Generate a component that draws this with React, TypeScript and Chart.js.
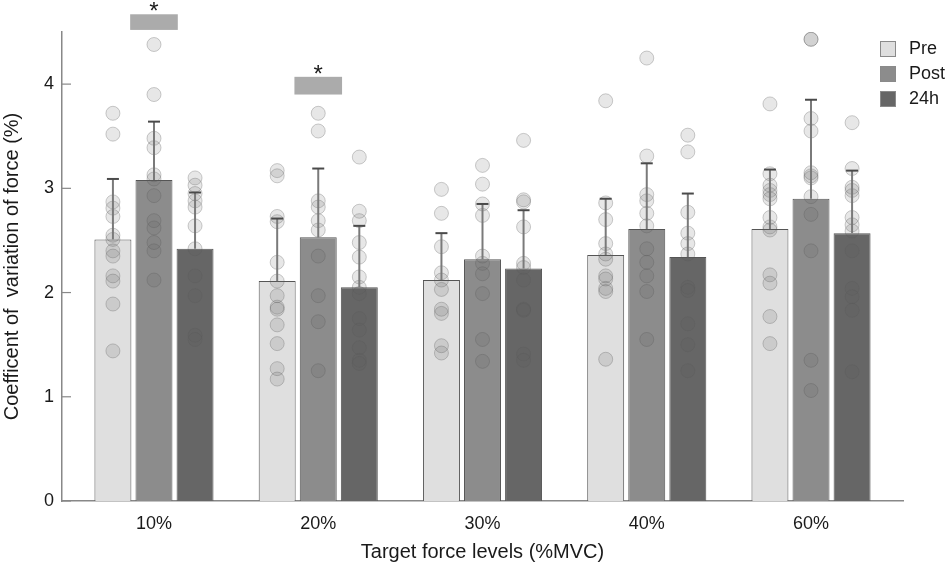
import React, { useEffect, useRef } from "react";
import { Chart, registerables } from "chart.js";

Chart.register(...registerables);

const CATEGORIES = ["10%", "20%", "30%", "40%", "60%"];
const SERIES = ["Pre", "Post", "24h"];
const Y_TICKS = [0, 1, 2, 3, 4];

const PRE_MEAN = [2.51, 2.11, 2.12, 2.36, 2.61];
const POST_MEAN = [3.08, 2.53, 2.32, 2.61, 2.9];
const H24_MEAN = [2.42, 2.05, 2.23, 2.34, 2.57];

const PRE_SD = [0.58, 0.6, 0.45, 0.54, 0.57];
const POST_SD = [0.56, 0.66, 0.53, 0.63, 0.95];
const H24_SD = [0.54, 0.59, 0.56, 0.61, 0.6];

const PRE_POINTS = [
  [3.72, 3.52, 2.87, 2.81, 2.73, 2.55, 2.51, 2.4, 2.35, 2.16, 2.11, 1.89, 1.44],
  [3.17, 3.12, 2.73, 2.68, 2.29, 2.11, 1.97, 1.86, 1.84, 1.69, 1.51, 1.27, 1.17],
  [2.99, 2.76, 2.44, 2.19, 2.12, 2.03, 1.84, 1.8, 1.49, 1.42],
  [3.84, 2.86, 2.7, 2.47, 2.37, 2.32, 2.16, 2.13, 2.04, 2.01, 1.36],
  [3.81, 3.14, 3.03, 2.98, 2.94, 2.9, 2.72, 2.63, 2.6, 2.17, 2.09, 1.77, 1.51],
];
const POST_POINTS = [
  [4.38, 3.9, 3.48, 3.39, 3.13, 3.09, 2.93, 2.69, 2.62, 2.48, 2.4, 2.12],
  [3.72, 3.55, 2.88, 2.82, 2.69, 2.6, 2.35, 1.97, 1.72, 1.25],
  [3.22, 3.04, 2.85, 2.74, 2.35, 2.28, 2.18, 1.99, 1.55, 1.34],
  [4.25, 3.31, 2.94, 2.88, 2.76, 2.64, 2.42, 2.29, 2.16, 2.01, 1.55],
  [4.43, 4.43, 3.67, 3.55, 3.15, 3.12, 3.1, 2.92, 2.75, 2.4, 1.35, 1.06],
];
const H24_POINTS = [
  [3.1, 3.03, 2.95, 2.88, 2.82, 2.64, 2.42, 2.16, 1.97, 1.59, 1.55],
  [3.3, 2.78, 2.69, 2.48, 2.34, 2.15, 2.05, 1.99, 1.75, 1.64, 1.47, 1.35, 1.32],
  [3.46, 2.89, 2.87, 2.63, 2.28, 2.24, 2.12, 1.84, 1.83, 1.41, 1.35],
  [3.51, 3.35, 2.77, 2.57, 2.47, 2.37, 2.05, 2.02, 1.7, 1.5, 1.25],
  [3.63, 3.19, 3.01, 2.98, 2.93, 2.72, 2.65, 2.59, 2.4, 2.04, 1.96, 1.83, 1.24],
];

// significance markers (on the Post bar of these categories)
const SIG_CATEGORY = [0, 1];
const SIG_LOW = [4.52, 3.9];
const SIG_HIGH = [4.67, 4.07];
const SIG_LABEL = ["*", "*"];

const MEANS = [PRE_MEAN, POST_MEAN, H24_MEAN];
const SDS = [PRE_SD, POST_SD, H24_SD];
const POINTS = [PRE_POINTS, POST_POINTS, H24_POINTS];

const GROUP_OFFSET = [-0.25, 0, 0.25];
const BAR_COLORS = ["#dfdfdf", "#8c8c8c", "#666666"];
const FONT = "'Liberation Sans', Arial, sans-serif";
const TEXT_COLOR = "#1a1a1a";

const overlay = {
  id: "overlay",
  afterDatasetsDraw(chart: any) {
    const { ctx, scales } = chart;
    const xs = scales.x;
    const ys = scales.y;
    ctx.save();

    // error bars (upper only)
    MEANS.forEach((means, s) => {
      means.forEach((m, i) => {
        const x = xs.getPixelForValue(i + GROUP_OFFSET[s]);
        const y0 = ys.getPixelForValue(m);
        const y1 = ys.getPixelForValue(m + SDS[s][i]);
        ctx.strokeStyle = "#7a7a7a";
        ctx.lineWidth = 2;
        ctx.beginPath();
        ctx.moveTo(x, y0);
        ctx.lineTo(x, y1);
        ctx.stroke();
        ctx.strokeStyle = "#4a4a4a";
        ctx.beginPath();
        ctx.moveTo(x - 6, y1);
        ctx.lineTo(x + 6, y1);
        ctx.stroke();
      });
    });

    // significance rectangles and asterisks
    const halfW = 0.145;
    SIG_CATEGORY.forEach((c, k) => {
      const xc = c + GROUP_OFFSET[1];
      const xl = xs.getPixelForValue(xc - halfW);
      const xr = xs.getPixelForValue(xc + halfW);
      const yt = ys.getPixelForValue(SIG_HIGH[k]);
      const yb = ys.getPixelForValue(SIG_LOW[k]);
      ctx.fillStyle = "#ababab";
      ctx.fillRect(xl, yt, xr - xl, yb - yt);
      ctx.fillStyle = TEXT_COLOR;
      ctx.font = `24px ${FONT}`;
      ctx.textAlign = "center";
      ctx.textBaseline = "alphabetic";
      ctx.fillText(SIG_LABEL[k], (xl + xr) / 2, yt + 5);
    });

    // inside tick marks on y axis
    ctx.strokeStyle = "#888888";
    ctx.lineWidth = 1.2;
    Y_TICKS.forEach((v) => {
      const y = ys.getPixelForValue(v);
      ctx.beginPath();
      ctx.moveTo(xs.left, y);
      ctx.lineTo(xs.left + 9, y);
      ctx.stroke();
    });

    // legend
    const lx = chart.width - 65;
    const ly0 = 49;
    const step = 25;
    SERIES.forEach((name, s) => {
      const cy = ly0 + s * step;
      ctx.fillStyle = BAR_COLORS[s];
      ctx.fillRect(lx, cy - 8, 16, 16);
      ctx.strokeStyle = "#8a8a8a";
      ctx.lineWidth = 1;
      ctx.strokeRect(lx + 0.5, cy - 7.5, 15, 15);
      ctx.fillStyle = TEXT_COLOR;
      ctx.font = `18px ${FONT}`;
      ctx.textAlign = "left";
      ctx.textBaseline = "middle";
      ctx.fillText(name, lx + 29, cy);
    });

    ctx.restore();
  },
};

export default function App() {
  const ref = useRef<HTMLCanvasElement | null>(null);

  useEffect(() => {
    if (!ref.current) return;
    const barSets = SERIES.map((name, s) => ({
      type: "bar" as const,
      label: name,
      data: MEANS[s].map((m, i) => ({ x: i + GROUP_OFFSET[s], y: m })),
      backgroundColor: BAR_COLORS[s],
      borderColor: "#555555",
      borderWidth: 1,
      grouped: false,
      categoryPercentage: 1,
      barPercentage: 0.9,
      order: 2,
    }));
    const pointSets = SERIES.map((name, s) => ({
      type: "scatter" as const,
      label: name + " points",
      data: POINTS[s].flatMap((arr, i) =>
        arr.map((v) => ({ x: i + GROUP_OFFSET[s], y: v }))
      ),
      pointRadius: 7,
      pointBackgroundColor: "rgba(95,95,95,0.15)",
      pointBorderColor: "rgba(90,90,90,0.3)",
      pointBorderWidth: 1,
      showLine: false,
      order: 1,
    }));

    const chart = new Chart(ref.current, {
      type: "bar",
      data: { datasets: [...barSets, ...pointSets] as any },
      plugins: [overlay],
      options: {
        animation: false,
        responsive: true,
        maintainAspectRatio: false,
        layout: { padding: { top: 32, right: 42, left: 0, bottom: 0 } },
        plugins: { legend: { display: false }, tooltip: { enabled: false } },
        scales: {
          x: {
            type: "linear",
            min: -0.56,
            max: 4.56,
            offset: false,
            grid: { display: false, drawTicks: false, offset: false },
            border: { display: true, color: "#888888", width: 1.5 },
            afterBuildTicks: (scale: any) => {
              scale.ticks = CATEGORIES.map((_, i) => ({ value: i }));
            },
            afterFit: (scale: any) => {
              scale.height = 68;
            },
            ticks: {
              callback: (v: any) => CATEGORIES[v as number] ?? "",
              font: { family: FONT, size: 18 },
              color: TEXT_COLOR,
              padding: 12,
              maxRotation: 0,
            },
            title: {
              display: true,
              text: "Target force levels (%MVC)",
              font: { family: FONT, size: 20 },
              color: TEXT_COLOR,
              padding: { top: 0, bottom: 5 },
            },
          },
          y: {
            type: "linear",
            min: 0,
            max: 4.5,
            grid: { display: false, drawTicks: false },
            border: { display: true, color: "#888888", width: 1.5 },
            afterBuildTicks: (scale: any) => {
              scale.ticks = Y_TICKS.map((v) => ({ value: v }));
            },
            afterFit: (scale: any) => {
              scale.width = 62;
            },
            ticks: {
              font: { family: FONT, size: 18 },
              color: TEXT_COLOR,
              padding: 8,
            },
            title: {
              display: true,
              text: "Coefficent of  variation of force (%)",
              font: { family: FONT, size: 20 },
              color: TEXT_COLOR,
              padding: { top: 0, bottom: 0 },
            },
          },
        },
      } as any,
    });
    return () => chart.destroy();
  }, []);

  return (
    <div
      style={{
        position: "fixed",
        left: 0,
        top: 0,
        width: 945,
        height: 569,
        background: "#ffffff",
      }}
    >
      <canvas ref={ref} />
    </div>
  );
}
